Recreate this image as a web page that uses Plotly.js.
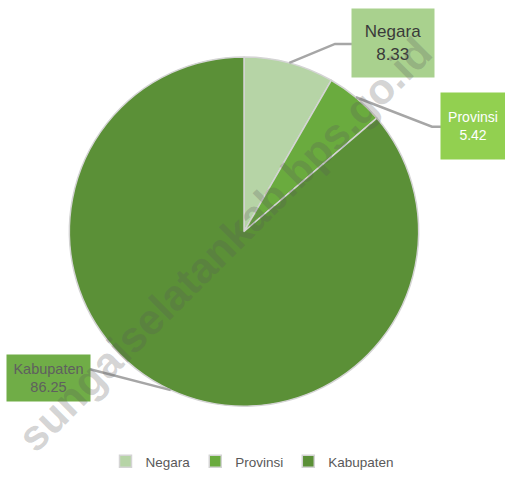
<!DOCTYPE html>
<html>
<head>
<meta charset="utf-8">
<script src="https://cdn.plot.ly/plotly-3.0.1.min.js"></script>
<style>html,body{margin:0;padding:0;background:#fff;}#chart{width:505px;height:477px;}</style>
</head>
<body>
<div id="chart"></div>
<script>
const categories = ["Negara", "Provinsi", "Kabupaten"];
const values = [8.33, 5.42, 86.25];
const labelTexts = ["8.33", "5.42", "86.25"];

const sliceColors = ["#b6d4a6", "#6aab3e", "#5b9037"];
const boxColors = ["#a9d18e", "#92d050", "#70ad47"];
const boxTextColors = ["#3a3a3a", "#ffffff", "#5f5f5f"];

const W = 505, H = 477;
const cx = 244, cy = 232, R = 175;
const px = x => x / W;
const py = y => 1 - y / H;

// box layout (pixels): center x, center y, width, height, font size
const boxes = [
  {x: 393, y: 43, w: 82, h: 68, fs: 17},
  {x: 473, y: 126, w: 64, h: 66, fs: 14},
  {x: 48.5, y: 379, w: 83, h: 46, fs: 14.5}
];
// elbow points of leader lines (pixels), ending at box edge
const elbows = [
  [[335, 44], [352, 44]],
  [[432, 127], [441, 127]],
  [[90, 370]]
];

const total = values.reduce((a, b) => a + b, 0);
let cum = 0;
const shapes = [];
const annotations = [];
values.forEach((v, i) => {
  const mid = (cum + v / 2) / total * 2 * Math.PI;
  cum += v;
  const ex = cx + R * Math.sin(mid), ey = cy - R * Math.cos(mid);
  let path = `M${px(ex)},${py(ey)}`;
  elbows[i].forEach(p => { path += ` L${px(p[0])},${py(p[1])}`; });
  shapes.push({type: "path", xref: "paper", yref: "paper", path: path,
    line: {color: "#a6a6a6", width: 2.5}, layer: "above"});
  const b = boxes[i];
  annotations.push({
    xref: "paper", yref: "paper", x: px(b.x), y: py(b.y),
    xanchor: "center", yanchor: "middle", showarrow: false,
    text: categories[i] + "<br>" + labelTexts[i],
    width: b.w, height: b.h, borderpad: 0, bgcolor: boxColors[i],
    font: {family: "Liberation Sans, Arial, sans-serif", size: b.fs, color: boxTextColors[i]}
  });
});

annotations.push({
  xref: "paper", yref: "paper", x: px(225), y: py(245),
  xanchor: "center", yanchor: "middle", showarrow: false,
  text: "<b>sungaiselatankab.bps.go.id</b>", textangle: -45,
  font: {family: "Liberation Sans, Arial, sans-serif", size: 43, color: "rgba(90,90,90,0.26)"}
});

const trace = {
  type: "pie",
  labels: categories,
  values: values,
  sort: false,
  direction: "clockwise",
  rotation: 0,
  textinfo: "none",
  hoverinfo: "label+value",
  marker: {colors: sliceColors, line: {color: "#d4d4d4", width: 1.5}},
  domain: {x: [px(cx - R), px(cx + R)], y: [py(cy + R), py(cy - R)]}
};

const layout = {
  width: W, height: H,
  margin: {l: 0, r: 0, t: 0, b: 0},
  paper_bgcolor: "#ffffff",
  showlegend: true,
  legend: {
    orientation: "h", x: 0.5, xanchor: "center", y: py(478), yanchor: "bottom",
    font: {family: "Liberation Sans, Arial, sans-serif", size: 13.5, color: "#595959"},
    itemwidth: 30, traceorder: "normal"
  },
  shapes: shapes,
  annotations: annotations
};

Plotly.newPlot("chart", [trace], layout, {displayModeBar: false, staticPlot: true});
</script>
</body>
</html>
